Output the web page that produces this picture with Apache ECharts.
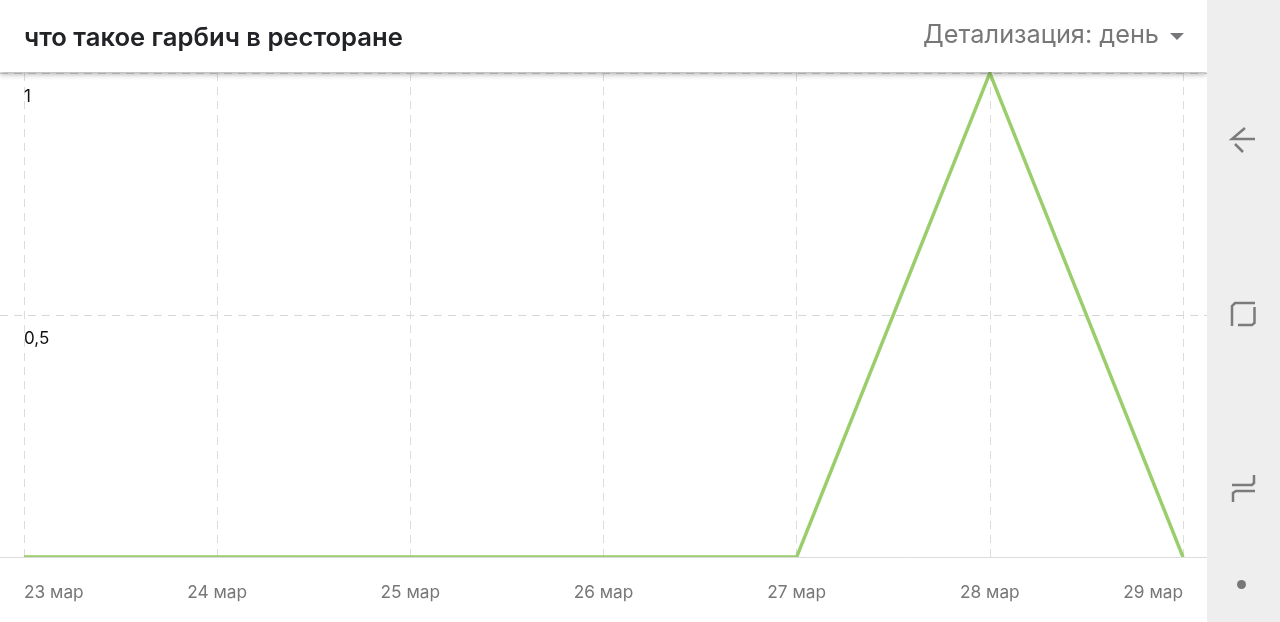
<!DOCTYPE html>
<html><head><meta charset="utf-8">
<style>html,body{margin:0;padding:0;background:#fff}#c{width:1280px;height:622px}</style>
<script src="https://cdn.jsdelivr.net/npm/echarts@6/dist/echarts.min.js"></script>
</head><body><div id="c"></div>
<script>
const categories = ['23 мар','24 мар','25 мар','26 мар','27 мар','28 мар','29 мар'];
const values = [0,0,0,0,0,1,0];
const titleText = 'что такое гарбич в ресторане';
const detailText = 'Детализация: день';
const font = 'Inter, "Open Sans", sans-serif';
const chart = echarts.init(document.getElementById('c'), null, {renderer:'canvas'});
const iconStyle = {stroke:'#7b7b7e', lineWidth:2.5, fill:'none'};
chart.setOption({
  animation:false,
  backgroundColor:'#fff',
  title:{text:titleText,left:19,top:20,z:30,textStyle:{fontFamily:font,fontSize:25.6,fontWeight:600,color:'#222326'}},
  grid:[
    {left:24,right:97,top:73,bottom:65},
    {left:0,right:73,top:73,bottom:65}
  ],
  xAxis:[
    {type:'category',gridIndex:0,data:categories,boundaryGap:false,
     axisLine:{show:false},axisTick:{show:false},
     splitLine:{show:true,lineStyle:{color:'#dcdcdc',type:[8,6],width:1}},
     axisLabel:{color:'#77777a',fontFamily:font,fontSize:17.3,margin:27,interval:0,alignMinLabel:'left',alignMaxLabel:'right'}},
    {type:'value',gridIndex:1,min:0,max:1,z:10,axisLine:{show:true,onZero:false,lineStyle:{color:'#dcdcdc',width:1}},
     axisTick:{show:false},axisLabel:{show:false},splitLine:{show:false}}
  ],
  yAxis:[
    {type:'value',gridIndex:0,min:0,max:1,interval:0.5,
     axisLine:{show:false},axisTick:{show:false},splitLine:{show:false},
     axisLabel:{inside:true,margin:0,color:'#111',fontFamily:font,fontSize:17,verticalAlign:'top',
       padding:[15,0,0,0],
       formatter:v=>v===0?'':String(v).replace('.',',')}},
    {type:'value',gridIndex:1,min:0,max:1,interval:0.5,
     axisLine:{show:false},axisTick:{show:false},axisLabel:{show:false},
     splitLine:{show:true,lineStyle:{color:'#d6d6d6',type:[8,6],width:1}}}
  ],
  series:[{type:'line',xAxisIndex:0,yAxisIndex:0,data:values,showSymbol:false,symbol:'none',clip:true,
    lineStyle:{color:'#9acd6c',width:3.4,join:'miter'},z:5}],
  graphic:[
    {type:'rect',z:6,shape:{x:0,y:558,width:1207,height:3},style:{fill:'#fff'}},
    {type:'rect',z:20,shape:{x:0,y:0,width:1207,height:72},style:{fill:'#fff',shadowBlur:6,shadowColor:'rgba(0,0,0,0.35)',shadowOffsetY:2}},
    {type:'rect',z:25,shape:{x:1207,y:0,width:73,height:622},style:{fill:'#eeeeee'}},
    {type:'text',z:30,x:1159,y:35,style:{text:detailText,align:'right',verticalAlign:'middle',fill:'#77777a',fontFamily:font,fontSize:25.3,fontWeight:400}},
    {type:'polygon',z:30,shape:{points:[[1170,33],[1184,33],[1177,40]]},style:{fill:'#77777a'}},
    {type:'polyline',z:30,shape:{points:[[1245,128],[1232,139],[1255,139]]},style:iconStyle},
    {type:'polyline',z:30,shape:{points:[[1235,144],[1243,152]]},style:iconStyle},
    {type:'polyline',z:30,shape:{points:[[1232,326],[1232,306],[1235,303],[1255,303]]},style:iconStyle},
    {type:'polyline',z:30,shape:{points:[[1238,325],[1252,325],[1254.5,323],[1254.5,307]]},style:iconStyle},
    {type:'polyline',z:30,shape:{points:[[1254,475],[1254,483],[1252,485],[1232,485]]},style:iconStyle},
    {type:'polyline',z:30,shape:{points:[[1233,502],[1233,493],[1236,491],[1255,491]]},style:iconStyle},
    {type:'circle',z:30,shape:{cx:1241.5,cy:584.5,r:4.5},style:{fill:'#77777a'}}
  ]
});
</script></body></html>
